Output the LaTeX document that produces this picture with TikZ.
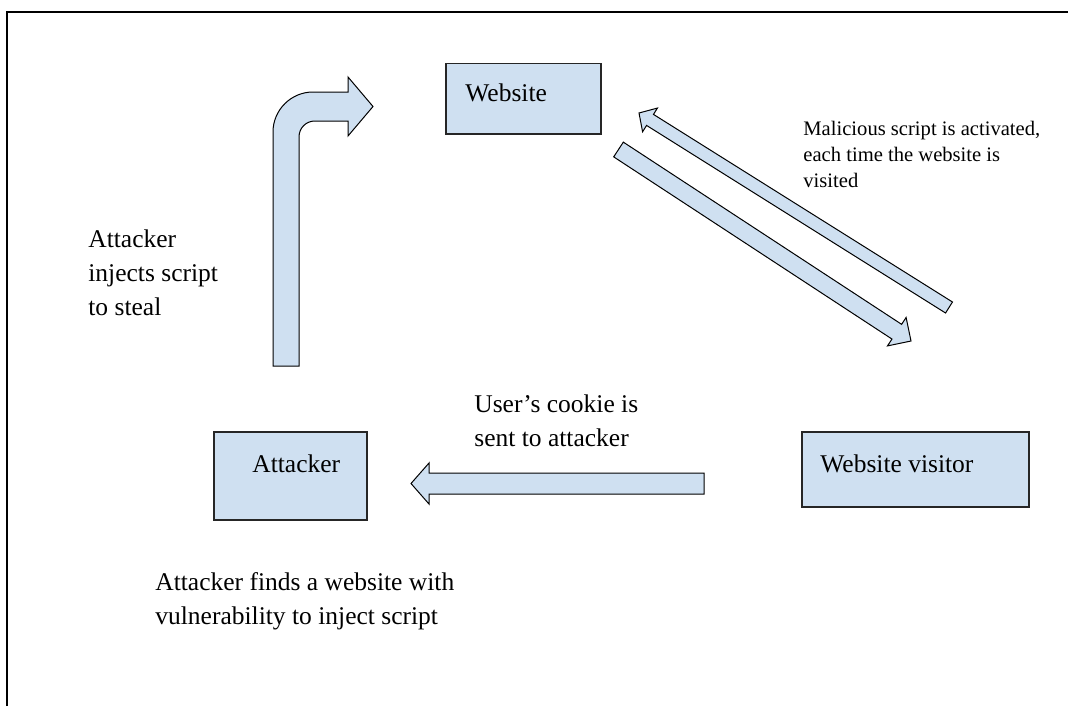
\documentclass[tikz,border=0pt]{standalone}
\usepackage{fontspec}
\setmainfont{Liberation Serif}
\usetikzlibrary{calc}
\definecolor{boxblue}{RGB}{207,224,241}
% block arrow: tail, tip, half shaft, half head, head length
\newcommand{\blockarr}[5]{%
  \path ($(#2)!#5!(#1)$) coordinate (hb);
  \draw[blockarrow] ($(#1)!#3!90:(#2)$) -- ($(hb)!#3!-90:(#1)$) -- ($(hb)!#4!-90:(#1)$) -- (#2)
    -- ($(hb)!#4!90:(#1)$) -- ($(hb)!#3!90:(#1)$) -- ($(#1)!#3!-90:(#2)$) -- cycle;}
\begin{document}
\begin{tikzpicture}[x=0.5pt,y=-0.5pt,line join=miter,
  box/.style={draw=black!85,line width=0.75pt,fill=boxblue,anchor=north west,inner sep=0pt},
  boxtext/.style={anchor=base west,inner sep=0pt,font=\fontsize{12.75pt}{17pt}\selectfont},
  note/.style={anchor=base west,inner sep=0pt,align=left,font=\fontsize{12.75pt}{17pt}\selectfont},
  smallnote/.style={anchor=base west,inner sep=0pt,align=left,font=\fontsize{10.3pt}{13pt}\selectfont},
  blockarrow/.style={draw=black,line width=0.5pt,fill=boxblue}]
\useasboundingbox (0,0) rectangle (1068,706);
\draw[line width=1pt] (7,706) -- (7,12) -- (1068,12);

% boxes
\node[box,minimum width=77.5pt,minimum height=35pt] (web) at (445,63) {};
\node[box,minimum width=76.5pt,minimum height=44pt] (att) at (213,431) {};
\node[box,minimum width=113.5pt,minimum height=37.5pt] (vis) at (801,431) {};
\node[boxtext] (webtxt) at ($(web.north west)+(20,38)$) {Website};
\node[boxtext] (atttxt) at ($(att.north west)+(39,41)$) {Attacker};
\node[boxtext] (vistxt) at ($(vis.north west)+(19,41)$) {Website visitor};

% texts (base = last line)
\node[note] (inject) at (88,315) {Attacker\\injects script\\to steal};
\node[note] (cookie) at (474,446) {User’s cookie is\\sent to attacker};
\node[note] (finds) at (155,624) {Attacker finds a website with\\vulnerability to inject script};
\node[smallnote] (activ) at (803,187) {Malicious script is activated,\\each time the website is\\visited};

% bent arrow
\draw[blockarrow] (273,366) -- (273,132) .. controls (273,110) and (291,92) .. (313,92) -- (348,92)
  -- (348,77) -- (373,106.5) -- (348,136) -- (348,121) -- (315,121)
  .. controls (306,121) and (299,128) .. (299,137) -- (299,366) -- cycle;

% straight arrows
\coordinate (ck tail) at (704,483.5);
\coordinate (ck tip) at (411,483.5);
\blockarr{ck tail}{ck tip}{5.25pt}{10.25pt}{9pt}
\coordinate (up tail) at (949,307.5);
\coordinate (up tip) at (639,113);
\blockarr{up tail}{up tip}{3.25pt}{7pt}{6.5pt}
\coordinate (dn tail) at (618.5,149.5);
\coordinate (dn tip) at (911,341);
\blockarr{dn tail}{dn tip}{4.4pt}{8.5pt}{8.5pt}
\end{tikzpicture}
\end{document}
